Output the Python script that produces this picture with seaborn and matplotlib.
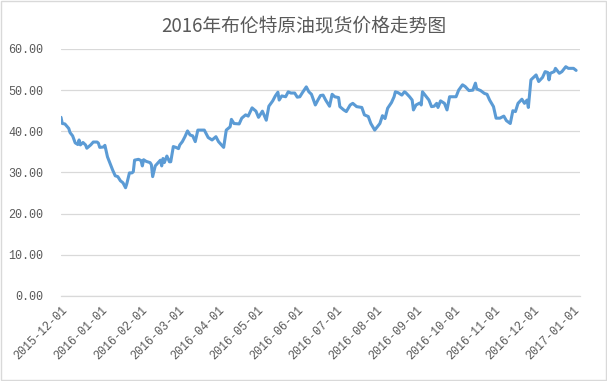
import pandas as pd
import numpy as np
import matplotlib
matplotlib.use("Agg")
import matplotlib.pyplot as plt
import matplotlib.dates as mdates
from matplotlib.patches import Rectangle
import seaborn as sns

title = "2016年布伦特原油现货价格走势图"

dates = [
    "2015-12-01", "2015-12-02", "2015-12-04", "2015-12-07", "2015-12-08", "2015-12-10",
    "2015-12-12", "2015-12-14", "2015-12-15", "2015-12-16", "2015-12-18", "2015-12-20",
    "2015-12-21", "2015-12-24", "2015-12-26", "2015-12-29", "2015-12-30", "2015-12-31",
    "2016-01-03", "2016-01-04", "2016-01-06", "2016-01-09", "2016-01-10", "2016-01-12",
    "2016-01-14", "2016-01-16", "2016-01-18", "2016-01-20", "2016-01-21", "2016-01-23",
    "2016-01-25", "2016-01-26", "2016-01-27", "2016-01-30", "2016-02-01", "2016-02-02",
    "2016-02-03", "2016-02-05", "2016-02-08", "2016-02-09", "2016-02-10", "2016-02-12",
    "2016-02-14", "2016-02-16", "2016-02-17", "2016-02-18", "2016-02-19", "2016-02-21",
    "2016-02-23", "2016-02-24", "2016-02-26", "2016-02-28", "2016-03-01", "2016-03-02",
    "2016-03-04", "2016-03-06", "2016-03-08", "2016-03-10", "2016-03-12", "2016-03-14",
    "2016-03-16", "2016-03-17", "2016-03-21", "2016-03-24", "2016-03-27", "2016-03-30",
    "2016-04-01", "2016-04-05", "2016-04-07", "2016-04-10", "2016-04-11", "2016-04-13",
    "2016-04-17", "2016-04-19", "2016-04-22", "2016-04-24", "2016-04-27", "2016-04-30",
    "2016-05-02", "2016-05-05", "2016-05-08", "2016-05-10", "2016-05-13", "2016-05-15",
    "2016-05-17", "2016-05-18", "2016-05-20", "2016-05-23", "2016-05-25", "2016-05-27",
    "2016-05-30", "2016-06-01", "2016-06-03", "2016-06-05", "2016-06-08", "2016-06-10",
    "2016-06-12", "2016-06-15", "2016-06-17", "2016-06-19", "2016-06-21", "2016-06-23",
    "2016-06-26", "2016-06-28", "2016-06-30", "2016-07-03", "2016-07-04", "2016-07-07",
    "2016-07-09", "2016-07-12", "2016-07-14", "2016-07-17", "2016-07-21", "2016-07-23",
    "2016-07-26", "2016-07-28", "2016-07-31", "2016-08-04", "2016-08-06", "2016-08-08",
    "2016-08-10", "2016-08-13", "2016-08-15", "2016-08-16", "2016-08-18", "2016-08-21",
    "2016-08-23", "2016-08-24", "2016-08-27", "2016-08-29", "2016-08-30", "2016-09-01",
    "2016-09-04", "2016-09-05", "2016-09-06", "2016-09-09", "2016-09-11", "2016-09-13",
    "2016-09-15", "2016-09-17", "2016-09-18", "2016-09-20", "2016-09-23", "2016-09-25",
    "2016-09-27", "2016-09-30", "2016-10-02", "2016-10-04", "2016-10-07", "2016-10-09",
    "2016-10-12", "2016-10-15", "2016-10-17", "2016-10-18", "2016-10-21", "2016-10-24",
    "2016-10-26", "2016-10-28", "2016-10-31", "2016-11-02", "2016-11-05", "2016-11-08",
    "2016-11-10", "2016-11-13", "2016-11-15", "2016-11-17", "2016-11-19", "2016-11-22",
    "2016-11-24", "2016-11-26", "2016-11-27", "2016-11-29", "2016-12-01", "2016-12-03",
    "2016-12-05", "2016-12-08", "2016-12-10", "2016-12-12", "2016-12-13", "2016-12-14",
    "2016-12-17", "2016-12-18", "2016-12-21", "2016-12-23", "2016-12-26", "2016-12-28",
    "2017-01-01", "2017-01-03",
]

prices = [
    43.4, 41.9, 41.8, 40.7, 39.7, 38.9,
    37.2, 36.8, 37.9, 36.7, 37.3, 36.7,
    35.9, 36.7, 37.4, 37.4, 37.1, 36.1,
    36.2, 36.6, 33.8, 31.4, 30.6, 29.2,
    29.0, 28.0, 27.5, 26.3, 27.3, 29.9,
    29.9, 30.2, 33.0, 33.2, 32.9, 31.6,
    33.1, 32.7, 32.4, 31.9, 29.0, 31.6,
    32.3, 33.0, 31.6, 33.4, 32.4, 34.0,
    32.6, 32.6, 36.3, 36.1, 35.8, 36.7,
    37.5, 38.7, 40.1, 39.1, 38.9, 37.5,
    40.3, 40.3, 40.3, 38.5, 37.9, 38.7,
    37.5, 36.1, 40.3, 41.1, 42.9, 41.9,
    41.8, 43.2, 44.0, 43.7, 45.7, 44.9,
    43.4, 44.9, 42.7, 46.1, 47.4, 48.6,
    49.5, 47.6, 48.6, 48.4, 49.6, 49.3,
    49.3, 48.3, 48.4, 49.4, 50.8, 49.6,
    49.0, 46.4, 47.6, 48.7, 48.8, 47.6,
    46.1, 49.0, 48.4, 48.2, 46.0, 45.2,
    44.8, 46.4, 46.8, 46.0, 45.8, 44.0,
    43.6, 41.9, 40.3, 41.9, 43.8, 43.1,
    45.6, 47.0, 48.4, 49.6, 49.4, 48.8,
    49.6, 49.4, 48.4, 47.6, 45.2, 46.4,
    46.9, 46.4, 49.6, 48.4, 47.6, 46.0,
    46.1, 46.8, 45.8, 47.4, 46.8, 45.2,
    48.4, 48.4, 48.4, 50.0, 51.3, 50.9,
    49.9, 50.0, 51.7, 50.3, 49.9, 49.2,
    49.0, 47.6, 46.0, 43.2, 43.2, 43.7,
    42.6, 41.9, 45.0, 44.8, 46.8, 47.8,
    46.8, 47.6, 45.8, 52.5, 53.1, 53.7,
    52.1, 53.1, 54.5, 54.3, 52.5, 54.1,
    54.5, 55.3, 54.1, 54.5, 55.7, 55.3,
    55.3, 54.8,
]

tick_dates = ["2015-12-01", "2016-01-01", "2016-02-01", "2016-03-01", "2016-04-01",
              "2016-05-01", "2016-06-01", "2016-07-01", "2016-08-01", "2016-09-01",
              "2016-10-01", "2016-11-01", "2016-12-01", "2017-01-01"]
y_ticks = [0, 10, 20, 30, 40, 50, 60]

df = pd.DataFrame({"date": pd.to_datetime(dates), "price": prices})

sns.set_theme(style="white")
plt.rcParams["font.family"] = ["Noto Sans CJK SC", "DejaVu Sans"]

fig = plt.figure(figsize=(6.07, 3.81), dpi=100)
ax = fig.add_axes([0.1005, 0.2231, 0.855, 0.6483])

sns.lineplot(data=df, x="date", y="price", ax=ax, color="#5B9BD5", linewidth=2.2)

ax.set_ylim(0, 60)
ax.set_yticks(y_ticks)
ax.set_yticklabels([f"{v:.2f}" for v in y_ticks])
ax.set_xlim(pd.Timestamp("2015-12-01"), pd.Timestamp("2017-01-06"))
ax.set_xticks(pd.to_datetime(tick_dates))
ax.xaxis.set_major_formatter(mdates.DateFormatter("%Y-%m-%d"))

ax.grid(axis="y", color="#d9d9d9", linewidth=0.9)
ax.grid(axis="x", visible=False)
for s in ["top", "right", "left"]:
    ax.spines[s].set_visible(False)
ax.spines["bottom"].set_color("#d9d9d9")
ax.spines["bottom"].set_linewidth(0.9)

mono = ["Liberation Mono", "DejaVu Sans Mono"]
ax.tick_params(axis="y", length=0, labelsize=8.5, labelcolor="#595959", pad=13)
ax.tick_params(axis="x", length=4, width=0.9, color="#d9d9d9", labelsize=8.5,
               labelcolor="#595959", pad=2)
for lab in ax.get_yticklabels():
    lab.set_family(mono)
for lab in ax.get_xticklabels():
    lab.set_family(mono)
plt.setp(ax.get_xticklabels(), rotation=45, ha="right", rotation_mode="anchor")

ax.set_xlabel("")
ax.set_ylabel("")

fig.text(0.5, 0.932, title, ha="center", va="center", fontsize=13.5, color="#595959")

fig.patches.append(Rectangle((0.001, 0.002), 0.997, 0.995, transform=fig.transFigure,
                             fill=False, edgecolor="#d9d9d9", linewidth=1.0))

fig.savefig("out.png", dpi=100)
